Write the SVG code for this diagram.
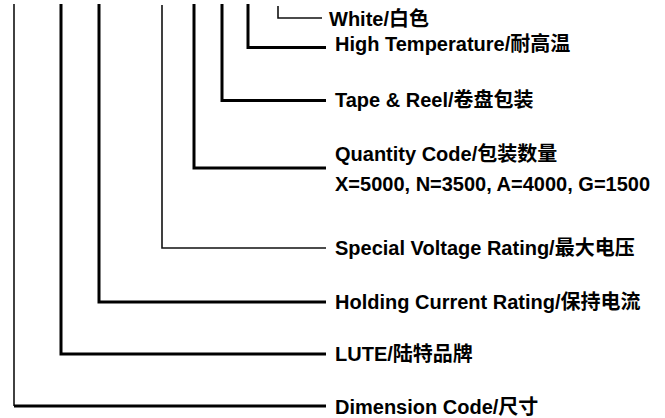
<svg xmlns="http://www.w3.org/2000/svg" width="665" height="418" viewBox="0 0 665 418">
  <style>
    .lbl { font-family: "Liberation Sans", "Noto Sans CJK SC", sans-serif; font-weight: bold; font-size: 20px; fill: #000; }
    .thick { fill: none; stroke: #000; stroke-width: 3; stroke-linejoin: miter; }
    .thin { fill: none; stroke: #111; stroke-width: 1.6; stroke-linejoin: miter; }
  </style>
  <rect width="665" height="418" fill="#fff"/>
  <g id="connectors">
    <polyline class="thin" points="14,4 14,406"/>
    <polyline class="thick" points="14,406 326,406"/>
    <polyline class="thick" points="61,4 61,354 326,354"/>
    <polyline class="thick" points="99,4 99,302 326,302"/>
    <polyline class="thin" points="162,5 162,248 326,248"/>
    <polyline class="thick" points="194,4 194,168 326,168"/>
    <polyline class="thick" points="222,4 222,100.5 326,100.5"/>
    <polyline class="thick" points="248,4 248,47.5 326,47.5"/>
    <polyline class="thin" points="278,6 278,18 322,18"/>
  </g>
  <g id="node-white"><text class="lbl" x="329" y="26">White/白色</text></g>
  <g id="node-high-temperature"><text class="lbl" x="335" y="51">High Temperature/耐高温</text></g>
  <g id="node-tape-reel"><text class="lbl" x="335" y="107">Tape &amp; Reel/卷盘包装</text></g>
  <g id="node-quantity-code">
    <text class="lbl" x="335" y="161">Quantity Code/包装数量</text>
    <text class="lbl" x="335" y="191">X=5000, N=3500, A=4000, G=1500</text>
  </g>
  <g id="node-special-voltage"><text class="lbl" x="335" y="255">Special Voltage Rating/最大电压</text></g>
  <g id="node-holding-current"><text class="lbl" x="335" y="309">Holding Current Rating/保持电流</text></g>
  <g id="node-lute"><text class="lbl" x="335" y="361">LUTE/陆特品牌</text></g>
  <g id="node-dimension"><text class="lbl" x="335" y="414">Dimension Code/尺寸</text></g>
</svg>
